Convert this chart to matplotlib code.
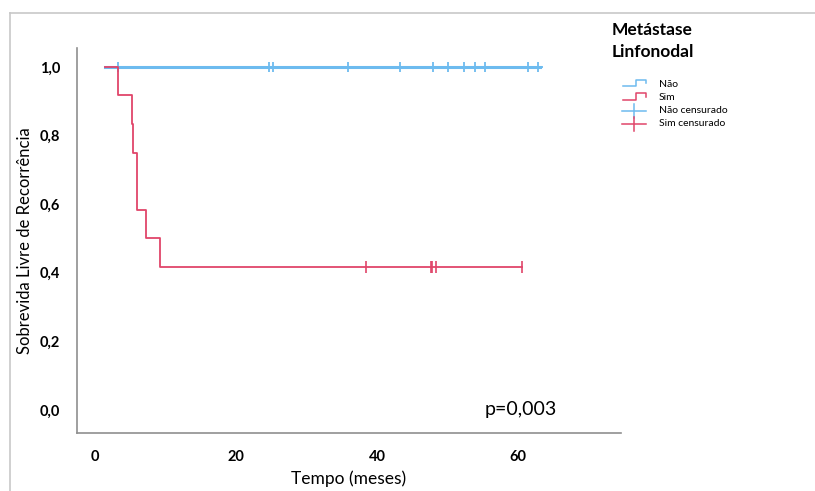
import matplotlib
matplotlib.use("Agg")
import matplotlib.pyplot as plt
from matplotlib.lines import Line2D

plt.rcParams["font.family"] = ["Lato", "DejaVu Sans"]

# Kaplan-Meier curves (tempo em meses)
nao_tempo = [1.4, 63.1]
nao_surv = [1.0, 1.0]
nao_cens = [3.3, 24.7, 25.2, 35.9, 43.3, 48.0, 50.0, 52.3, 53.9, 55.3, 61.4, 62.8]

sim_tempo = [1.4, 3.3, 5.3, 5.4, 6.0, 7.2, 9.2, 60.5]
sim_surv = [1.0, 0.917, 0.833, 0.75, 0.583, 0.5, 0.417, 0.417]
sim_cens = [38.4, 47.6, 47.8, 48.4, 60.5]
sim_cens_surv = 0.417

x_ticks = [0, 20, 40, 60]
y_ticks = [0.0, 0.2, 0.4, 0.6, 0.8, 1.0]
y_tick_labels = ["0,0", "0,2", "0,4", "0,6", "0,8", "1,0"]

legend_labels = ["Não", "Sim", "Não censurado", "Sim censurado"]

blue = "#6DBBEF"
red = "#E0456A"
grey = "#8f8f8f"

fig = plt.figure(figsize=(8.15, 4.91), dpi=100)
ax = fig.add_axes([77 / 815, 1 - 433 / 491, (621 - 77) / 815, (433 - 48) / 491])

ax.step(nao_tempo, nao_surv, where="post", color=blue, lw=2.2)
ax.plot(nao_cens, [1.0] * len(nao_cens), ls="none", marker="+", ms=7, mew=1.3, color=blue)
ax.step(sim_tempo, sim_surv, where="post", color=red, lw=1.3)
ax.plot(sim_cens, [sim_cens_surv] * len(sim_cens), ls="none", marker="|", ms=8, mew=1.2, color=red)

ax.set_xlim(-2.55, 74.6)
ax.set_ylim(-0.067, 1.055)
ax.set_xticks(x_ticks)
ax.set_xticklabels([str(t) for t in x_ticks], fontweight="bold", fontsize=10.5)
ax.set_yticks(y_ticks)
ax.set_yticklabels(y_tick_labels, fontweight="bold", fontsize=10.5)
ax.tick_params(length=0)
ax.tick_params(axis="x", pad=12)
ax.tick_params(axis="y", pad=12)
for s in ["top", "right"]:
    ax.spines[s].set_visible(False)
for s in ["left", "bottom"]:
    ax.spines[s].set_color(grey)
    ax.spines[s].set_linewidth(1.2)

ax.set_ylabel("Sobrevida Livre de Recorrência", fontsize=12, labelpad=5)
ax.set_xlabel("Tempo (meses)", fontsize=12.5, labelpad=5)
ax.text(0.816, 0.06, "p=0,003", transform=ax.transAxes, ha="center", va="center", fontsize=14)

# overlay in pixel coordinates: frame and legend
ov = fig.add_axes([0, 0, 1, 1], facecolor="none")
ov.set_xlim(0, 815)
ov.set_ylim(491, 0)
ov.axis("off")
ov.add_line(Line2D([10, 815], [13, 13], color="#c8c8c8", lw=1.2))
ov.add_line(Line2D([10, 10], [13, 491], color="#c8c8c8", lw=1.2))

ov.text(612, 30, "Metástase", fontweight="bold", fontsize=12.5, va="center", ha="left")
ov.text(612, 52, "Linfonodal", fontweight="bold", fontsize=12.5, va="center", ha="left")

rows = [84, 97.5, 110.5, 123.5]
for y, lab, col in zip(rows[:2], legend_labels[:2], [blue, red]):
    ov.add_line(Line2D([623, 636, 636, 646, 646], [y + 2, y + 2, y - 4.5, y - 4.5, y - 1],
                       color=col, lw=1.1))
for y, col in zip(rows[2:], [blue, red]):
    ov.add_line(Line2D([622, 646], [y, y], color=col, lw=1.1))
    ov.add_line(Line2D([634, 634], [y - 7, y + 7], color=col, lw=1.1))
for y, lab in zip(rows, legend_labels):
    ov.text(659, y, lab, fontsize=7.5, va="center", ha="left")

fig.savefig("out.png", dpi=100)
